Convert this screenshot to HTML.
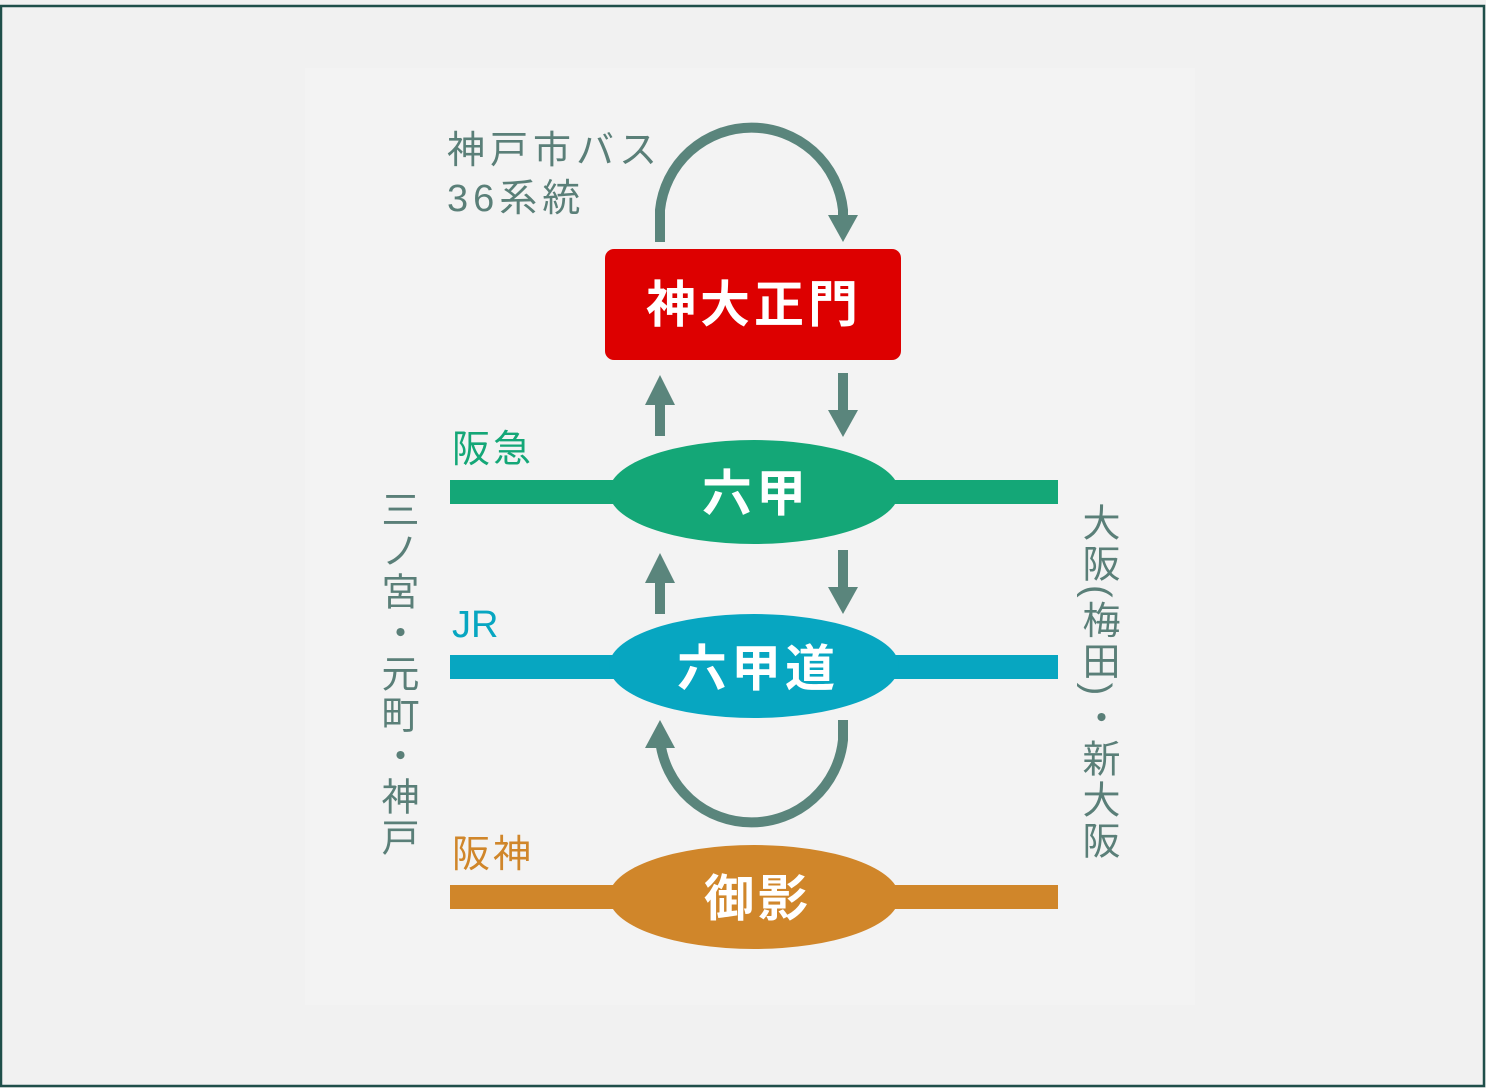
<!DOCTYPE html>
<html><head><meta charset="utf-8"><style>
html,body{margin:0;padding:0;background:#fff}
.v{position:absolute;writing-mode:vertical-rl;font-family:"Liberation Sans","Noto Sans CJK JP",sans-serif;font-size:38px;color:#5a7f78;line-height:40px;letter-spacing:3px}
</style></head><body>
<div style="position:relative;width:1486px;height:1088px;overflow:hidden">
<svg width="1486" height="1088" style="position:absolute;left:0;top:0" font-family="Liberation Sans, Noto Sans CJK JP, sans-serif">
<rect x="0" y="0" width="1486" height="1088" fill="#f1f1f1"/>
<rect x="1" y="6" width="1483" height="1080" fill="none" stroke="#1f4f4a" stroke-width="2.5"/>
<rect x="305" y="68" width="890" height="937" fill="#f3f3f3"/>
<g stroke="#5a857c" stroke-width="10" fill="none">
<path d="M660 242 V210 A92 92 0 0 1 843 210 V222"/>
<path d="M660 436 V395"/><path d="M843 373 V415"/>
<path d="M660 614 V572"/><path d="M843 550 V592"/>
<path d="M843 720 V740 A92 92 0 0 1 660 740 V742"/>
</g>
<g fill="#5a857c">
<polygon points="828,215 858,215 843,242"/>
<polygon points="645,405 675,405 660,375"/>
<polygon points="828,410 858,410 843,437"/>
<polygon points="645,583 675,583 660,553"/>
<polygon points="828,587 858,587 843,614"/>
<polygon points="645,748 675,748 660,720"/>
</g>
<rect x="605" y="249" width="296" height="111" rx="9" fill="#dd0000"/>
<rect x="450" y="480" width="608" height="24" fill="#14a777"/>
<ellipse cx="754" cy="492" rx="145" ry="52" fill="#14a777"/>
<rect x="450" y="655" width="608" height="24" fill="#07a6c1"/>
<ellipse cx="754" cy="666" rx="145" ry="52" fill="#07a6c1"/>
<rect x="450" y="885" width="608" height="24" fill="#d0862a"/>
<ellipse cx="754" cy="897" rx="145" ry="52" fill="#d0862a"/>
<g fill="#fff" font-weight="bold" font-size="50" text-anchor="middle" letter-spacing="4">
<text x="754" y="322">神大正門</text>
<text x="756" y="511">六甲</text>
<text x="758" y="686">六甲道</text>
<text x="758" y="916">御影</text>
</g>
<g font-size="38" fill="#5a7f78" letter-spacing="5">
<text x="447" y="163">神戸市バス</text>
<text x="447" y="211">36系統</text>
</g>
<text x="452" y="462" font-size="38" fill="#14a777" letter-spacing="3">阪急</text>
<text x="452" y="637" font-size="38" fill="#07a6c1">JR</text>
<text x="452" y="867" font-size="38" fill="#d0862a" letter-spacing="3">阪神</text>
</svg>
<div class="v" style="left:376px;top:490px">三ノ宮・元町・神戸</div>
<div class="v" style="left:1077px;top:503px">大阪(梅田)・新大阪</div>
</div>
</body></html>
